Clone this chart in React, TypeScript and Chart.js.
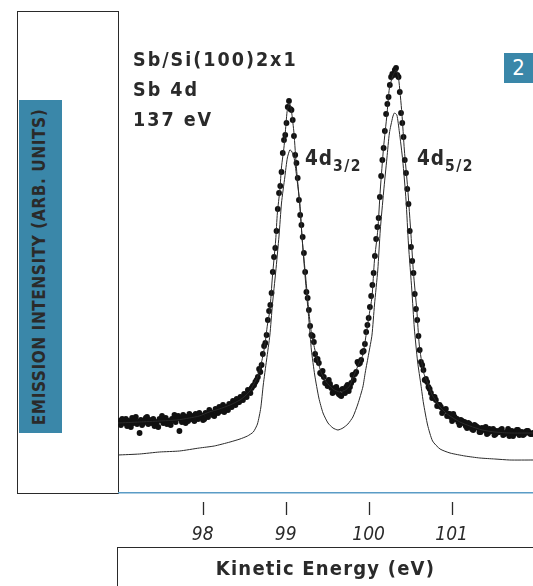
import React, { useEffect, useRef } from 'react';
import { Chart, registerables } from 'chart.js';

Chart.register(...registerables);

// Measured photoemission intensity (dots), scan A
const scanAEnergy = [
  97.00, 97.03, 97.06, 97.09, 97.12, 97.15, 97.18, 97.21, 97.24, 97.27,
  97.30, 97.33, 97.36, 97.39, 97.42, 97.45, 97.48, 97.51, 97.54, 97.57,
  97.60, 97.63, 97.66, 97.69, 97.72, 97.75, 97.78, 97.81, 97.84, 97.87,
  97.90, 97.93, 97.96, 97.99, 98.02, 98.05, 98.08, 98.11, 98.14, 98.17,
  98.20, 98.23, 98.26, 98.29, 98.32, 98.35, 98.38, 98.41, 98.44, 98.47,
  98.50, 98.53, 98.56, 98.59, 98.62, 98.65, 98.68, 98.71, 98.74, 98.77,
  98.80, 98.83, 98.86, 98.89, 98.92, 98.95, 98.98, 99.01, 99.04, 99.07,
  99.10, 99.13, 99.16, 99.19, 99.22, 99.25, 99.28, 99.31, 99.34, 99.37,
  99.40, 99.43, 99.46, 99.49, 99.52, 99.55, 99.58, 99.61, 99.64, 99.67,
  99.70, 99.73, 99.76, 99.79, 99.82, 99.85, 99.88, 99.91, 99.94, 99.97,
  100.00, 100.03, 100.06, 100.09, 100.12, 100.15, 100.18, 100.21, 100.24, 100.27,
  100.30, 100.33, 100.36, 100.39, 100.42, 100.45, 100.48, 100.51, 100.54, 100.57,
  100.60, 100.63, 100.66, 100.69, 100.72, 100.75, 100.78, 100.81, 100.84, 100.87,
  100.90, 100.93, 100.96, 100.99, 101.02, 101.05, 101.08, 101.11, 101.14, 101.17,
  101.20, 101.23, 101.26, 101.29, 101.32, 101.35, 101.38, 101.41, 101.44, 101.47,
  101.50, 101.53, 101.56, 101.59, 101.62, 101.65, 101.68, 101.71, 101.74, 101.77,
  101.80, 101.83, 101.86, 101.89, 101.92, 101.95, 101.98,
];
const scanAIntensity = [
  72, 74, 70, 67, 71, 75, 73, 69, 60, 68,
  72, 76, 73, 70, 67, 71, 74, 77, 72, 69,
  70, 74, 78, 75, 62, 71, 73, 76, 79, 74,
  72, 77, 80, 76, 74, 79, 83, 80, 77, 82,
  86, 83, 81, 86, 89, 86, 90, 94, 91, 95,
  99, 96, 101, 105, 108, 113, 124, 128, 147, 158,
  182, 200, 236, 262, 300, 321, 353, 370, 392, 383,
  357, 330, 293, 268, 240, 201, 183, 158, 151, 133,
  130, 119, 116, 110, 113, 105, 101, 106, 99, 97,
  103, 106, 102, 110, 113, 121, 129, 133, 142, 161,
  175, 197, 220, 254, 275, 317, 345, 379, 396, 416,
  418, 425, 416, 380, 356, 320, 289, 246, 220, 184,
  157, 131, 123, 114, 106, 100, 96, 93, 88, 86,
  83, 84, 79, 76, 79, 74, 71, 73, 70, 67,
  70, 66, 63, 67, 65, 61, 64, 66, 60, 62,
  64, 59, 61, 63, 58, 60, 64, 61, 57, 60,
  63, 60, 58, 61, 62, 59, 60,
];

// Measured photoemission intensity (dots), scan B (interleaved energies)
const scanBEnergy = [
  97.015, 97.045, 97.075, 97.105, 97.135, 97.165, 97.195, 97.225, 97.255, 97.285,
  97.315, 97.345, 97.375, 97.405, 97.435, 97.465, 97.495, 97.525, 97.555, 97.585,
  97.615, 97.645, 97.675, 97.705, 97.735, 97.765, 97.795, 97.825, 97.855, 97.885,
  97.915, 97.945, 97.975, 98.005, 98.035, 98.065, 98.095, 98.125, 98.155, 98.185,
  98.215, 98.245, 98.275, 98.305, 98.335, 98.365, 98.395, 98.425, 98.455, 98.485,
  98.515, 98.545, 98.575, 98.605, 98.635, 98.665, 98.695, 98.725, 98.755, 98.785,
  98.815, 98.845, 98.875, 98.905, 98.935, 98.965, 98.995, 99.025, 99.055, 99.085,
  99.115, 99.145, 99.175, 99.205, 99.235, 99.265, 99.295, 99.325, 99.355, 99.385,
  99.415, 99.445, 99.475, 99.505, 99.535, 99.565, 99.595, 99.625, 99.655, 99.685,
  99.715, 99.745, 99.775, 99.805, 99.835, 99.865, 99.895, 99.925, 99.955, 99.985,
  100.015, 100.045, 100.075, 100.105, 100.135, 100.165, 100.195, 100.225, 100.255, 100.285,
  100.315, 100.345, 100.375, 100.405, 100.435, 100.465, 100.495, 100.525, 100.555, 100.585,
  100.615, 100.645, 100.675, 100.705, 100.735, 100.765, 100.795, 100.825, 100.855, 100.885,
  100.915, 100.945, 100.975, 101.005, 101.035, 101.065, 101.095, 101.125, 101.155, 101.185,
  101.215, 101.245, 101.275, 101.305, 101.335, 101.365, 101.395, 101.425, 101.455, 101.485,
  101.515, 101.545, 101.575, 101.605, 101.635, 101.665, 101.695, 101.725, 101.755, 101.785,
  101.815, 101.845, 101.875, 101.905, 101.935, 101.965,
];
const scanBIntensity = [
  68, 71, 74, 72, 66, 70, 76, 71, 73, 70,
  75, 69, 72, 74, 70, 66, 73, 70, 75, 72,
  68, 73, 71, 77, 74, 78, 70, 72, 75, 77,
  79, 74, 78, 73, 80, 76, 81, 78, 84, 80,
  82, 88, 85, 83, 87, 92, 88, 91, 96, 93,
  97, 103, 100, 107, 111, 116, 121, 139, 150, 173,
  188, 221, 245, 284, 307, 340, 358, 386, 384, 373,
  338, 315, 278, 256, 221, 195, 167, 157, 139, 134,
  120, 122, 110, 107, 109, 100, 105, 103, 98, 104,
  100, 108, 106, 118, 119, 131, 130, 141, 149, 168,
  186, 208, 237, 266, 296, 333, 362, 389, 408, 419,
  423, 418, 401, 370, 333, 304, 262, 232, 199, 173,
  143, 128, 113, 111, 104, 95, 96, 87, 88, 80,
  83, 77, 79, 72, 76, 74, 68, 72, 71, 65,
  69, 64, 68, 66, 61, 65, 63, 59, 64, 62,
  58, 62, 61, 64, 59, 61, 57, 62, 60, 63,
  58, 61, 59, 62, 60, 59,
];

// Fitted envelope through the dots
const fitEnergy = [
  96.98, 97.24, 97.48, 97.69, 97.84, 97.96, 98.08, 98.20, 98.33, 98.45,
  98.51, 98.57, 98.61, 98.66, 98.71, 98.75, 98.78, 98.81, 98.84, 98.88,
  98.90, 98.93, 98.95, 98.98, 99.00, 99.02, 99.05, 99.07, 99.10, 99.13,
  99.17, 99.20, 99.24, 99.28, 99.31, 99.35, 99.39, 99.43, 99.49, 99.57,
  99.65, 99.72, 99.77, 99.81, 99.86, 99.89, 99.93, 99.96, 100.00, 100.04,
  100.07, 100.11, 100.14, 100.18, 100.22, 100.25, 100.29, 100.33, 100.36, 100.40,
  100.43, 100.47, 100.51, 100.54, 100.58, 100.61, 100.66, 100.71, 100.76, 100.81,
  100.86, 100.92, 100.98, 101.10, 101.22, 101.37, 101.52, 101.70, 101.98,
];
const fitIntensity = [
  70, 71, 72, 73, 75, 77, 81, 84, 88, 93,
  97, 102, 108, 116, 131, 148, 168, 183, 216, 253,
  280, 303, 326, 346, 365, 383, 389, 382, 360, 325,
  288, 253, 217, 181, 160, 144, 131, 120, 111, 104,
  101, 103, 107, 115, 125, 131, 138, 153, 175, 196,
  233, 263, 303, 346, 378, 405, 417, 423, 415, 380,
  343, 305, 258, 220, 183, 148, 121, 110, 99, 92,
  86, 81, 77, 71, 67, 63, 61, 60, 60,
];

// Inner (surface component) curve
const componentEnergy = [
  96.98, 97.24, 97.48, 97.72, 97.96, 98.14, 98.33, 98.45, 98.54, 98.61,
  98.66, 98.70, 98.73, 98.77, 98.81, 98.84, 98.88, 98.92, 98.95, 98.99,
  99.02, 99.05, 99.07, 99.10, 99.13, 99.17, 99.20, 99.24, 99.28, 99.31,
  99.35, 99.40, 99.45, 99.51, 99.57, 99.63, 99.69, 99.75, 99.81, 99.87,
  99.93, 99.96, 100.00, 100.04, 100.07, 100.11, 100.14, 100.18, 100.22, 100.25,
  100.29, 100.31, 100.34, 100.37, 100.41, 100.45, 100.48, 100.52, 100.55, 100.59,
  100.63, 100.66, 100.71, 100.77, 100.86, 100.98, 101.16, 101.34, 101.52, 101.70,
  101.98,
];
const componentIntensity = [
  38, 39, 41, 42, 45, 47, 51, 54, 57, 61,
  69, 85, 108, 133, 158, 188, 221, 257, 290, 316,
  335, 343, 342, 336, 318, 290, 253, 211, 173, 143,
  118, 95, 80, 70, 65, 63, 65, 69, 76, 89,
  106, 121, 139, 158, 188, 223, 263, 301, 335, 360,
  376, 380, 378, 361, 333, 293, 248, 203, 165, 131,
  108, 90, 68, 52, 44, 40, 37, 35, 34, 33,
  33,
];

const xTickValues = [98, 99, 100, 101];
const xMin = 96.98;
const xMax = 101.98;
const yMax = 481;

const BLUE = '#3a87a9';
const INK = '#2a2a2a';
const COND = '"DejaVu Sans Condensed", "DejaVu Sans", sans-serif';

const tickMarks = {
  id: 'tickMarks',
  afterDraw(chart: any) {
    const xs = chart.scales.x;
    const ctx = chart.ctx;
    const bottom = chart.chartArea.bottom;
    ctx.save();
    ctx.strokeStyle = INK;
    ctx.lineWidth = 1.3;
    xs.ticks.forEach((t: any) => {
      const x = Math.round(xs.getPixelForValue(t.value)) + 0.5;
      ctx.beginPath();
      ctx.moveTo(x, bottom + 9);
      ctx.lineTo(x, bottom + 22);
      ctx.stroke();
    });
    ctx.restore();
  },
};

export default function App() {
  const ref = useRef<HTMLCanvasElement>(null);

  useEffect(() => {
    if (!ref.current) return;
    const toPts = (xs: number[], ys: number[]) => xs.map((x, i) => ({ x, y: ys[i] }));
    const dotStyle = {
      showLine: false,
      pointRadius: 2.9,
      pointBackgroundColor: '#111',
      pointBorderWidth: 0,
      borderColor: '#111',
    };
    const chart = new Chart(ref.current, {
      type: 'scatter',
      data: {
        datasets: [
          {
            label: 'fit',
            data: toPts(fitEnergy, fitIntensity),
            showLine: true,
            borderColor: INK,
            borderWidth: 1,
            pointRadius: 0,
            tension: 0.2,
          },
          {
            label: 'component',
            data: toPts(componentEnergy, componentIntensity),
            showLine: true,
            borderColor: INK,
            borderWidth: 1,
            pointRadius: 0,
            tension: 0.2,
          },
          { label: 'scan A', data: toPts(scanAEnergy, scanAIntensity), ...dotStyle },
          { label: 'scan B', data: toPts(scanBEnergy, scanBIntensity), ...dotStyle },
        ],
      },
      options: {
        responsive: false,
        animation: false,
        layout: { padding: 0, autoPadding: false },
        plugins: { legend: { display: false }, tooltip: { enabled: false } },
        scales: {
          x: {
            type: 'linear',
            min: xMin,
            max: xMax,
            afterBuildTicks: (scale: any) => {
              scale.ticks = xTickValues.map((v) => ({ value: v }));
            },
            afterFit: (scale: any) => {
              scale.height = 82;
            },
            grid: { display: false, drawTicks: false },
            border: { display: true, color: '#5a9cc6', width: 1.5 },
            ticks: {
              padding: 31,
              color: INK,
              maxRotation: 0,
              autoSkip: false,
              font: { family: COND, size: 19, style: 'italic' },
              callback: (v: any) => String(v),
            },
          },
          y: {
            type: 'linear',
            display: false,
            min: 0,
            max: yMax,
          },
        },
      },
      plugins: [tickMarks],
    });
    return () => chart.destroy();
  }, []);

  const abs = (s: React.CSSProperties): React.CSSProperties => ({ position: 'absolute', ...s });

  return (
    <div style={{ position: 'absolute', left: 0, top: 0, width: 533, height: 586, overflow: 'hidden', background: '#fff' }}>
      {/* left framed box */}
      <div style={abs({ left: 17, top: 11, width: 102, height: 483, border: `1.5px solid ${INK}`, boxSizing: 'border-box' })} />
      {/* blue y-label band */}
      <div style={abs({ left: 19, top: 100, width: 43, height: 333, background: BLUE })} />
      <div
        style={abs({
          left: 38.5 - 170,
          top: 267 - 11,
          width: 340,
          height: 22,
          lineHeight: '22px',
          textAlign: 'center',
          transform: 'rotate(-90deg)',
          fontFamily: COND,
          fontWeight: 'bold',
          fontSize: 17,
          letterSpacing: '0.6px',
          color: INK,
          whiteSpace: 'nowrap',
        })}
      >
        EMISSION INTENSITY (ARB. UNITS)
      </div>

      <canvas
        ref={ref}
        width={415}
        height={563}
        style={abs({ left: 118, top: 12, width: 415, height: 563 })}
      />

      {/* sample description */}
      <div
        style={abs({
          left: 133,
          top: 45,
          fontFamily: COND,
          fontWeight: 'bold',
          fontSize: 19.5,
          lineHeight: '30px',
          letterSpacing: '2px',
          color: INK,
          whiteSpace: 'nowrap',
        })}
      >
        <div>Sb/Si(100)2x1</div>
        <div>Sb 4d</div>
        <div>137 eV</div>
      </div>

      {/* peak labels */}
      <div style={abs({ left: 305, top: 146, fontFamily: COND, fontWeight: 'bold', fontSize: 20.5, lineHeight: '24px', letterSpacing: '1px', color: INK, whiteSpace: 'nowrap' })}>
        4d<span style={{ fontSize: 15.5, position: 'relative', top: 6, letterSpacing: '1.5px' }}>3/2</span>
      </div>
      <div style={abs({ left: 417, top: 146, fontFamily: COND, fontWeight: 'bold', fontSize: 20.5, lineHeight: '24px', letterSpacing: '1px', color: INK, whiteSpace: 'nowrap' })}>
        4d<span style={{ fontSize: 15.5, position: 'relative', top: 6, letterSpacing: '1.5px' }}>5/2</span>
      </div>

      {/* panel number badge */}
      <div
        style={abs({
          left: 504,
          top: 53,
          width: 29,
          height: 30,
          background: BLUE,
          color: '#fff',
          fontFamily: COND,
          fontSize: 22,
          lineHeight: '30px',
          textAlign: 'center',
        })}
      >
        2
      </div>

      {/* x-axis title box */}
      <div
        style={abs({
          left: 117,
          top: 547,
          width: 430,
          height: 50,
          borderTop: `1.5px solid ${INK}`,
          borderLeft: `1.5px solid ${INK}`,
          boxSizing: 'border-box',
        })}
      />
      <div
        style={abs({
          left: 118,
          top: 556,
          width: 415,
          textAlign: 'center',
          fontFamily: COND,
          fontWeight: 'bold',
          fontSize: 20,
          lineHeight: '24px',
          letterSpacing: '1.2px',
          color: INK,
          whiteSpace: 'nowrap',
        })}
      >
        Kinetic Energy (eV)
      </div>
    </div>
  );
}
